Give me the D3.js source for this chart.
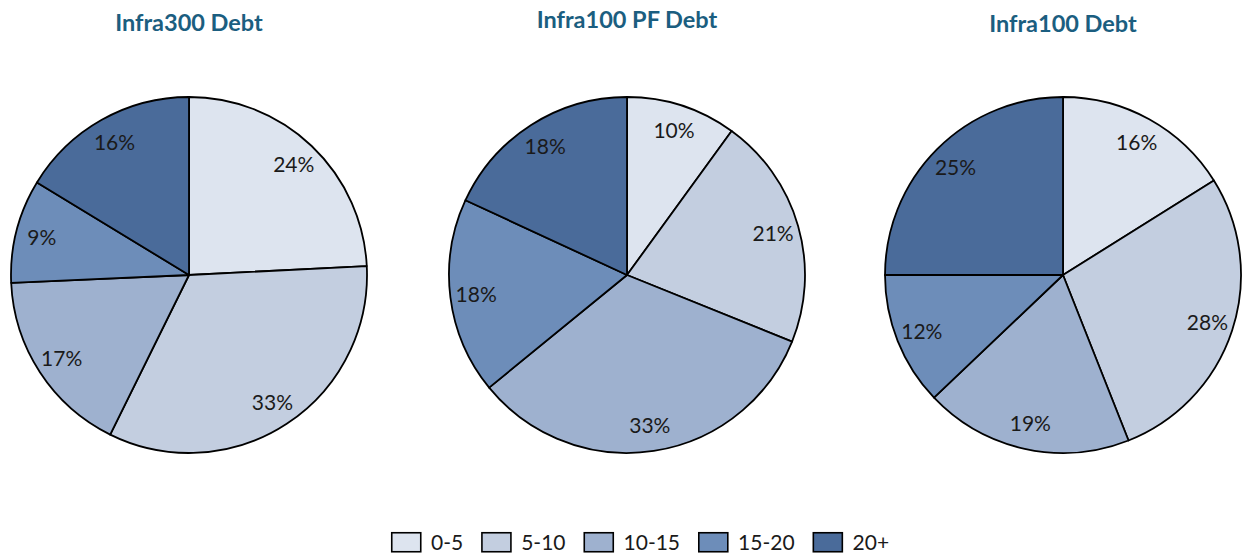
<!DOCTYPE html>
<html>
<head>
<meta charset="utf-8">
<script src="https://cdn.jsdelivr.net/npm/d3@7"></script>
<style>
    body { margin: 0; background: #fff; }
    svg { display: block; font-family: Lato, "Open Sans", sans-serif; }
</style>
</head>
<body>
<div id="chart"></div>
<script>
// data
const buckets = ['0-5', '5-10', '10-15', '15-20', '20+'];
const titles = ['Infra300 Debt', 'Infra100 PF Debt', 'Infra100 Debt'];
const infra300 = [24.2, 33.1, 17.0, 9.4, 16.3];
const infra100pf = [10.0, 21.1, 33.0, 17.8, 18.1];
const infra100 = [16.1, 27.9, 18.9, 12.1, 25.0];
const series = [infra300, infra100pf, infra100];
const colors = ['#dde4ef', '#c3cee0', '#9eb1cf', '#6d8db9', '#4a6b9a'];

const width = 1243, height = 554;
const radius = 178;
const centersX = [189, 627, 1063];
const centerY = 275;
const titleY = [31, 28, 32];

const svg = d3.select('#chart')
    .append('svg')
    .attr('width', width)
    .attr('height', height);

const color = d3.scaleOrdinal().domain(buckets).range(colors);
const pie = d3.pie().sort(null).value(d => d.value);
const arc = d3.arc().innerRadius(0).outerRadius(radius);
const labelArc = d3.arc().innerRadius(152).outerRadius(152);

series.forEach((values, i) => {
    const rows = buckets.map((b, j) => ({ bucket: b, value: values[j] }));
    const g = svg.append('g')
        .attr('transform', `translate(${centersX[i]},${centerY})`);

    g.selectAll('path.slice')
        .data(pie(rows))
        .join('path')
        .attr('class', 'slice')
        .attr('d', arc)
        .attr('fill', d => color(d.data.bucket))
        .attr('stroke', '#000')
        .attr('stroke-width', 1.8)
        .attr('stroke-linejoin', 'round');

    g.selectAll('text.lbl')
        .data(pie(rows))
        .join('text')
        .attr('class', 'lbl')
        .attr('transform', d => `translate(${labelArc.centroid(d)})`)
        .attr('text-anchor', 'middle')
        .attr('dy', '0.36em')
        .attr('font-size', 21)
        .attr('fill', '#1a1a1a')
        .text(d => Math.round(d.data.value) + '%');

    svg.append('text')
        .attr('x', centersX[i])
        .attr('y', titleY[i])
        .attr('text-anchor', 'middle')
        .attr('font-size', 23.5)
        .attr('font-weight', 700)
        .attr('fill', '#1b5e80')
        .text(titles[i]);
});

// legend
const legend = svg.append('g').attr('transform', 'translate(391,532)');
let x = 0;
buckets.forEach(b => {
    const item = legend.append('g').attr('transform', `translate(${x},0)`);
    item.append('rect')
        .attr('x', 0.75).attr('y', 0.75)
        .attr('width', 29).attr('height', 19)
        .attr('fill', color(b))
        .attr('stroke', '#000')
        .attr('stroke-width', 1.6);
    const t = item.append('text')
        .attr('x', 40)
        .attr('y', 10)
        .attr('dy', '0.36em')
        .attr('font-size', 21)
        .attr('fill', '#1a1a1a')
        .text(b);
    x += 40 + t.node().getComputedTextLength() + 18;
});
</script>
</body>
</html>
